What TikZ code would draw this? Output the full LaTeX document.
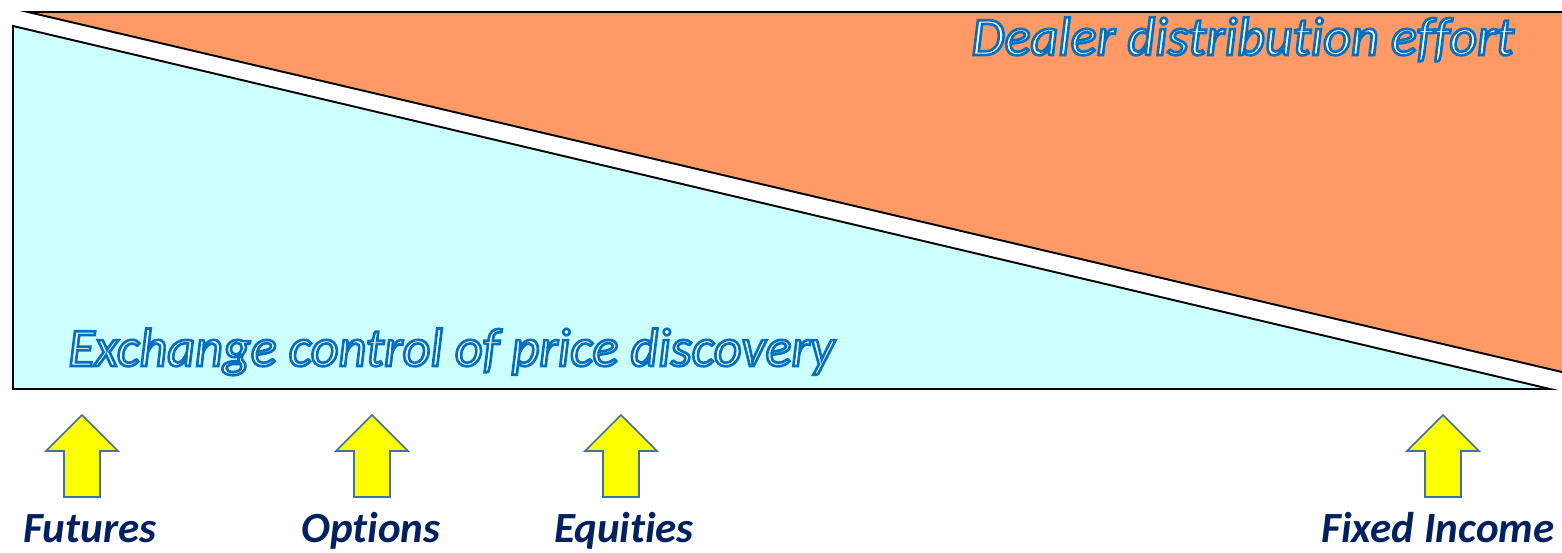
\documentclass[tikz,border=0pt]{standalone}
\usepackage{fontspec}
\setmainfont{Carlito}[Ligatures=NoCommon]
\definecolor{orangefill}{HTML}{FF9966}
\definecolor{cyanfill}{HTML}{CCFFFF}
\definecolor{arrowfill}{HTML}{FFFF00}
\definecolor{arrowline}{HTML}{41719C}
\definecolor{navy}{HTML}{002060}
\newcommand{\outlinetext}[1]{\special{pdf:literal direct 2 Tr 1.5 w 0 0.44 0.75 RG}#1\special{pdf:literal direct 0 Tr}}
\begin{document}
\begin{tikzpicture}[x=0.02cm,y=-0.02cm,
  edge/.style={draw=black,line width=1.1pt},
  outlined/.style={inner sep=0pt,text=white,font=\fontsize{30.8}{34}\selectfont\itshape},
  lbl/.style={inner sep=0pt,text=navy,font=\fontsize{24.5}{28}\selectfont\bfseries\itshape},
  uparr/.pic={\draw[fill=arrowfill,draw=arrowline,line width=0.9pt,line join=miter]
     (0,0) -- (36,36) -- (18,36) -- (18,82) -- (-18,82) -- (-18,36) -- (-36,36) -- cycle;}
]
\useasboundingbox (0,0) rectangle (1562,552);
\begin{scope}
  \clip (0,0) rectangle (1562,552);
  \fill[orangefill] (28,12) -- (1620,12) -- (1620,385.6) -- cycle;
  \draw[edge] (1620,385.6) -- (28,12) -- (1620,12);
\end{scope}
\draw[edge,fill=cyanfill] (13,26) -- (13,389) -- (1550,389) -- cycle;
\node[outlined,anchor=base west] (dealer) at (971,55) {\outlinetext{Dealer distribution effort}};
\node[outlined,anchor=base west] (exch) at (68,366) {\outlinetext{Exchange control of price discovery}};
\pic (a1) at (82,415) {uparr};
\pic (a2) at (372,415) {uparr};
\pic (a3) at (621,415) {uparr};
\pic (a4) at (1443,415) {uparr};
\node[lbl,anchor=base] (fut) at (90,542) {Futures};
\node[lbl,anchor=base] (opt) at (371,542) {Options};
\node[lbl,anchor=base] (equ) at (624,542) {Equities};
\node[lbl,anchor=base] (fix) at (1438,542) {Fixed Income};
\end{tikzpicture}
\end{document}
